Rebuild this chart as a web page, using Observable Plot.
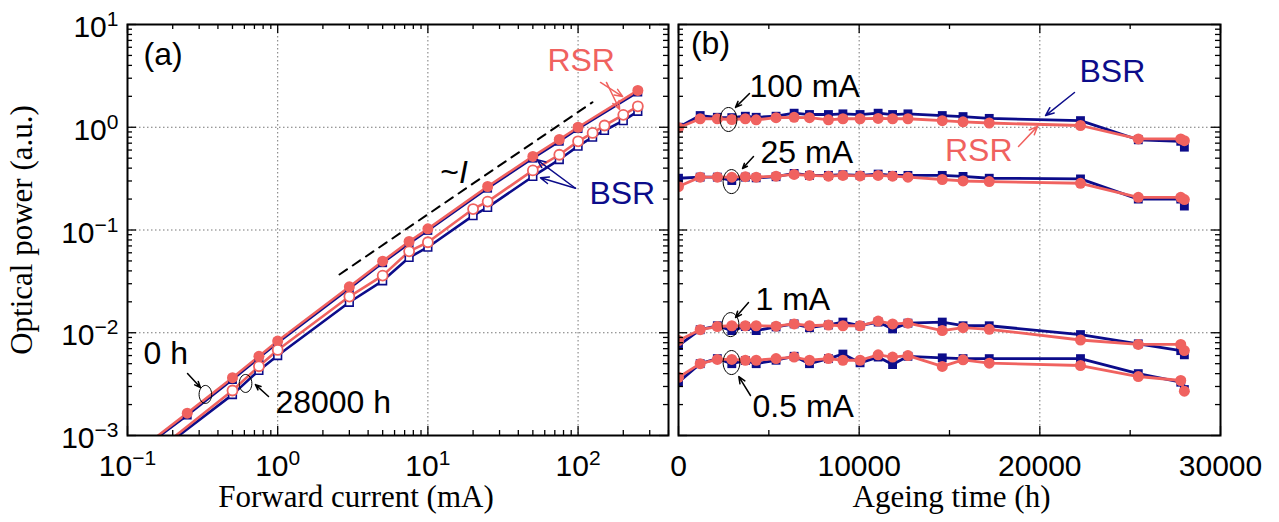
<!DOCTYPE html>
<html><head><meta charset="utf-8">
<script src="https://cdn.jsdelivr.net/npm/d3@7"></script>
<script src="https://cdn.jsdelivr.net/npm/@observablehq/plot@0.6"></script>
<style>
html,body{margin:0;padding:0;background:#fff;}
#chart{display:flex;flex-direction:row;width:1279px;height:522px;overflow:hidden;}
#chart svg{display:block;}
</style></head><body><div id="chart"></div>
<script>
// ---------- data: panel (a) ----------
const currentsFresh = [0.25, 0.5, 0.75, 1, 3, 5, 7.5, 10, 25, 50, 75, 100, 250];          // mA, 0 h
const rsrFresh = [0.00165, 0.00365, 0.0059, 0.0083, 0.028, 0.0497, 0.0773, 0.1026, 0.265, 0.52, 0.76, 1.0, 2.28];
const bsrFresh = [0.00158, 0.0035, 0.0057, 0.0080, 0.027, 0.048, 0.074, 0.099, 0.255, 0.50, 0.73, 0.97, 2.2];
const currentsAged = [0.5, 0.75, 1, 3, 5, 7.5, 10, 20, 25, 50, 75, 100, 125, 150, 200, 250]; // mA, 28000 h
const rsrAged = [0.00274, 0.00472, 0.0068, 0.0225, 0.036, 0.062, 0.076, 0.16, 0.189, 0.38, 0.54, 0.73, 0.88, 1.04, 1.32, 1.6];
const bsrAged = [0.0025, 0.0043, 0.006, 0.0198, 0.032, 0.054, 0.068, 0.138, 0.166, 0.332, 0.485, 0.655, 0.8, 0.93, 1.16, 1.43];
// where each curve leaves the bottom of the frame: rsrFresh, bsrFresh, rsrAged, bsrAged
const entryCurrents = [0.16, 0.165, 0.21, 0.22];
const entryPower = 0.001;
// ~I guide line
const guideCurrent = [2.58, 124.7];
const guidePower = [0.0369, 1.75];

// ---------- data: panel (b) ----------
const ageingHours = [0, 1200, 2150, 2950, 3700, 4300, 5400, 6400, 7250, 8300, 9100, 10050, 11050, 11850, 12700, 14600, 15750, 17200, 22250, 25450, 27800, 28000];
const rsr100 = [0.99, 1.21, 1.21, 1.19, 1.21, 1.18, 1.24, 1.25, 1.24, 1.18, 1.21, 1.21, 1.22, 1.21, 1.21, 1.16, 1.13, 1.10, 1.04, 0.77, 0.77, 0.74];
const bsr100 = [1.0, 1.30, 1.25, 1.24, 1.28, 1.25, 1.28, 1.37, 1.33, 1.33, 1.35, 1.33, 1.37, 1.33, 1.35, 1.30, 1.27, 1.22, 1.16, 0.755, 0.73, 0.64];
const rsr25 = [0.265, 0.327, 0.327, 0.327, 0.33, 0.327, 0.334, 0.347, 0.34, 0.334, 0.34, 0.336, 0.34, 0.334, 0.327, 0.31, 0.30, 0.296, 0.285, 0.208, 0.208, 0.198];
const bsr25 = [0.319, 0.327, 0.327, 0.303, 0.327, 0.322, 0.33, 0.355, 0.34, 0.34, 0.345, 0.34, 0.35, 0.34, 0.34, 0.34, 0.332, 0.319, 0.314, 0.20, 0.20, 0.171];
const rsr1 = [0.0084, 0.0107, 0.0115, 0.0117, 0.0117, 0.0117, 0.0116, 0.0122, 0.0117, 0.0119, 0.0117, 0.0117, 0.0130, 0.0122, 0.0124, 0.0105, 0.0112, 0.0108, 0.0085, 0.0077, 0.0077, 0.0067];
const bsr1 = [0.0075, 0.0107, 0.0117, 0.0105, 0.0115, 0.0105, 0.0114, 0.0122, 0.0112, 0.0119, 0.0127, 0.0117, 0.0127, 0.0109, 0.0124, 0.0127, 0.0117, 0.0117, 0.0096, 0.0078, 0.0067, 0.0061];
const rsr05 = [0.00369, 0.0050, 0.0055, 0.0055, 0.0054, 0.0054, 0.0056, 0.0058, 0.0054, 0.0056, 0.0054, 0.0054, 0.0061, 0.0058, 0.0060, 0.0047, 0.00545, 0.00506, 0.0048, 0.00375, 0.00343, 0.0027];
const bsr05 = [0.0033, 0.0050, 0.0056, 0.0050, 0.00536, 0.0050, 0.0054, 0.0059, 0.0050, 0.0056, 0.0062, 0.0051, 0.0058, 0.0049, 0.0059, 0.0057, 0.0056, 0.0056, 0.0056, 0.0040, 0.0033, 0.0028];

// ---------- ticks ----------
const powerMajor = [1e-3, 1e-2, 1e-1, 1, 10];
const powerMinor = [1e-3, 1e-2, 1e-1, 1].flatMap(b => [2,3,4,5,6,7,8,9].map(m => m * b));
const currentMajor = [0.1, 1, 10, 100];
const currentMinor = [0.1, 1, 10, 100].flatMap(b => [2,3,4,5,6,7,8,9].map(m => m * b)).filter(v => v <= 400);
const hoursMajor = [0, 10000, 20000, 30000];
const hoursMinor = [5000, 15000, 25000];
const currentGrid = [1, 10, 100];
const powerGrid = [0.01, 0.1, 1];
const hoursGrid = [10000, 20000];

// ---------- annotations ----------
const notesA = [
  {x: 0.128, y: 5.1, text: "(a)", c: "black"},
  {x: 62.5, y: 4.47, text: "RSR", c: "red"},
  {x: 119, y: 0.224, text: "BSR", c: "navy"},
  {x: 12.1, y: 0.359, text: "~I", c: "black"},
  {x: 0.128, y: 0.00628, text: "0 h", c: "black"},
  {x: 0.966, y: 0.00207, text: "28000 h", c: "black"}
];
const arrowsA = [
  {x1: 141, y1: 2.73, x2: 198, y2: 1.99, c: "red"},
  {x1: 154.5, y1: 2.73, x2: 189, y2: 1.49, c: "red"},
  {x1: 96.1, y1: 0.255, x2: 53.4, y2: 0.482, c: "navy"},
  {x1: 96.1, y1: 0.255, x2: 56.2, y2: 0.322, c: "navy"},
  {x1: 0.251, y1: 0.00401, x2: 0.306, y2: 0.00293, c: "black"},
  {x1: 0.869, y1: 0.00240, x2: 0.711, y2: 0.00313, c: "black"}
];
const ellipsesA = [{x: 0.330, y: 0.00251}, {x: 0.611, y: 0.00321}];

const notesB = [
  {x: 690, y: 6.5, text: "(b)", c: "black"},
  {x: 3930, y: 2.46, text: "100 mA", c: "black"},
  {x: 4539, y: 0.567, text: "25 mA", c: "black"},
  {x: 4262, y: 0.0211, text: "1 mA", c: "black"},
  {x: 4096, y: 0.00191, text: "0.5 mA", c: "black"},
  {x: 22195, y: 3.45, text: "BSR", c: "navy"}
];
const notesBEnd = [
  {x: 18487, y: 0.594, text: "RSR", c: "red"}
];
const arrowsB = [
  {x1: 3930, y1: 2.13, x2: 3155, y2: 1.56, c: "black"},
  {x1: 4151, y1: 0.519, x2: 3542, y2: 0.397, c: "black"},
  {x1: 3875, y1: 0.0197, x2: 3155, y2: 0.01406, c: "black"},
  {x1: 3985, y1: 0.00245, x2: 3338, y2: 0.00375, c: "black"},
  {x1: 21919, y1: 2.18, x2: 20314, y2: 1.30, c: "navy"},
  {x1: 18819, y1: 0.650, x2: 19870, y2: 1.02, c: "red"}
];
const ellipsesB = [{x: 2768, y: 1.19}, {x: 2934, y: 0.296}, {x: 2878, y: 0.0120}, {x: 2934, y: 0.00513}];

// ---------- styling ----------
const RED = "#f0625f", NAVY = "#0c0c8a";
const colorOf = c => c === "red" ? RED : c === "navy" ? NAVY : "black";
const SANS = "'Liberation Sans', Arial, sans-serif";
const SERIF = "'Liberation Serif', 'Times New Roman', serif";
const H = 522, MT = 24, MB = 87;
const frameH = H - MT - MB;

const ellipse = {
  draw(ctx, size) {
    const r = Math.sqrt(size / Math.PI), rx = r * 0.7, ry = r, k = 0.5523;
    ctx.moveTo(rx, 0);
    ctx.bezierCurveTo(rx, ry * k, rx * k, ry, 0, ry);
    ctx.bezierCurveTo(-rx * k, ry, -rx, ry * k, -rx, 0);
    ctx.bezierCurveTo(-rx, -ry * k, -rx * k, -ry, 0, -ry);
    ctx.bezierCurveTo(rx * k, -ry, rx, -ry * k, rx, 0);
    ctx.closePath();
  }
};

function frameTicks(xMajor, xMinor, yMajor, yMinor, fw, fh) {
  const marks = [];
  for (const [vals, len] of [[xMajor, 9], [xMinor, 5]]) {
    marks.push(Plot.tickX(vals, {x: d => d, insetTop: fh - len, strokeWidth: 1.3}));
    marks.push(Plot.tickX(vals, {x: d => d, insetBottom: fh - len, strokeWidth: 1.3}));
  }
  for (const [vals, len] of [[yMajor, 9], [yMinor, 5]]) {
    marks.push(Plot.tickY(vals, {y: d => d, insetRight: fw - len, strokeWidth: 1.3}));
    marks.push(Plot.tickY(vals, {y: d => d, insetLeft: fw - len, strokeWidth: 1.3}));
  }
  return marks;
}
const pow10 = d => { const e = Math.round(Math.log10(d)); return "10^" + (e < 0 ? "\u2212" + (-e) : e); };
const zip = (xs, ys) => xs.map((x, i) => ({x, y: ys[i]}));
const gridStyle = {stroke: "#777", strokeWidth: 1, strokeDasharray: "1.5,2.5"};
const noteMark = (notes, anchor) =>
  Plot.text(notes, {x: "x", y: "y", text: "text", fill: d => colorOf(d.c), textAnchor: anchor,
    lineAnchor: "middle", fontSize: 32, fontFamily: SANS});

// ---------- panel (a) ----------
const WA = 673, MLA = 127, MRA = 5;
const freshR = zip(currentsFresh, rsrFresh), freshB = zip(currentsFresh, bsrFresh);
const agedR = zip(currentsAged, rsrAged), agedB = zip(currentsAged, bsrAged);
const lineFreshR = [{x: entryCurrents[0], y: entryPower}, ...freshR];
const lineFreshB = [{x: entryCurrents[1], y: entryPower}, ...freshB];
const lineAgedR = [{x: entryCurrents[2], y: entryPower}, ...agedR];
const lineAgedB = [{x: entryCurrents[3], y: entryPower}, ...agedB];

const plotA = Plot.plot({
  width: WA, height: H, marginLeft: MLA, marginRight: MRA, marginTop: MT, marginBottom: MB,
  style: {fontFamily: SANS, color: "black", background: "white", overflow: "visible"},
  x: {type: "log", domain: [0.1, 400], label: null},
  y: {type: "log", domain: [1e-3, 10], label: null},
  marks: [
    Plot.ruleX(currentGrid, {x: d => d, ...gridStyle}),
    Plot.ruleY(powerGrid, {y: d => d, ...gridStyle}),
    Plot.line(zip(guideCurrent, guidePower), {x: "x", y: "y", stroke: "black", strokeWidth: 2, strokeDasharray: "9,7"}),
    Plot.line(lineAgedB, {x: "x", y: "y", stroke: NAVY, strokeWidth: 2.6, clip: true}),
    Plot.line(lineFreshB, {x: "x", y: "y", stroke: NAVY, strokeWidth: 2.6, clip: true}),
    Plot.line(lineAgedR, {x: "x", y: "y", stroke: RED, strokeWidth: 2.6, clip: true}),
    Plot.line(lineFreshR, {x: "x", y: "y", stroke: RED, strokeWidth: 2.6, clip: true}),
    Plot.dot(freshB, {x: "x", y: "y", symbol: "square", r: 5, fill: NAVY}),
    Plot.dot(agedB, {x: "x", y: "y", symbol: "square", r: 4.3, fill: "white", stroke: NAVY, strokeWidth: 1.6}),
    Plot.dot(freshR, {x: "x", y: "y", r: 5.5, fill: RED}),
    Plot.dot(agedR, {x: "x", y: "y", r: 5, fill: "white", stroke: RED, strokeWidth: 1.8}),
    Plot.arrow(arrowsA, {x1: "x1", y1: "y1", x2: "x2", y2: "y2", stroke: d => colorOf(d.c), strokeWidth: 1.5, headLength: 9, headAngle: 45}),
    Plot.dot(ellipsesA, {x: "x", y: "y", r: 9, symbol: ellipse, fill: "none", stroke: "black", strokeWidth: 1}),
    noteMark(notesA, "start"),
    ...frameTicks(currentMajor, currentMinor, powerMajor, powerMinor, 668 - MLA, frameH),
    Plot.frame({stroke: "black", strokeWidth: 2}),
    Plot.axisX({ticks: currentMajor, tickFormat: pow10, tickSize: 0, tickPadding: 19, fontSize: 30, label: null}),
    Plot.axisY({ticks: powerMajor, tickFormat: pow10, tickSize: 0, tickPadding: 9, fontSize: 30, label: null, dy: 3}),
    Plot.text(["Optical power (a.u.)"], {frameAnchor: "left", text: d => d, rotate: -90, dx: -105, textAnchor: "middle", lineAnchor: "middle", fontSize: 31, fontFamily: SERIF}),
    Plot.text(["Forward current (mA)"], {frameAnchor: "bottom", text: d => d, dx: -42, dy: 62, textAnchor: "middle", lineAnchor: "middle", fontSize: 31, fontFamily: SERIF})
  ]
});

// ---------- panel (b) ----------
const WB = 606, MLB = 5, MRB = 59;
const seriesB = [
  {vals: bsr100, c: NAVY, s: "square"}, {vals: rsr100, c: RED, s: "circle"},
  {vals: bsr25, c: NAVY, s: "square"}, {vals: rsr25, c: RED, s: "circle"},
  {vals: bsr1, c: NAVY, s: "square"}, {vals: rsr1, c: RED, s: "circle"},
  {vals: bsr05, c: NAVY, s: "square"}, {vals: rsr05, c: RED, s: "circle"}
];
const marksB = [];
for (const s of seriesB) {
  const pts = zip(ageingHours, s.vals);
  marksB.push(Plot.line(pts, {x: "x", y: "y", stroke: s.c, strokeWidth: 2.8, clip: true}));
  marksB.push(Plot.dot(pts, {x: "x", y: "y", symbol: s.s, r: s.s === "square" ? 5 : 5.5, fill: s.c, clip: true}));
}

const plotB = Plot.plot({
  width: WB, height: H, marginLeft: MLB, marginRight: MRB, marginTop: MT, marginBottom: MB,
  style: {fontFamily: SANS, color: "black", background: "white", overflow: "visible"},
  x: {type: "linear", domain: [0, 30000], label: null},
  y: {type: "log", domain: [1e-3, 10], label: null, axis: null},
  marks: [
    Plot.ruleX(hoursGrid, {x: d => d, ...gridStyle}),
    Plot.ruleY(powerGrid, {y: d => d, ...gridStyle}),
    ...marksB,
    Plot.arrow(arrowsB, {x1: "x1", y1: "y1", x2: "x2", y2: "y2", stroke: d => colorOf(d.c), strokeWidth: 1.5, headLength: 9, headAngle: 45}),
    Plot.dot(ellipsesB, {x: "x", y: "y", r: 12, symbol: ellipse, fill: "none", stroke: "black", strokeWidth: 1}),
    noteMark(notesB, "start"),
    noteMark(notesBEnd, "end"),
    ...frameTicks(hoursMajor, hoursMinor, powerMajor, powerMinor, WB - MLB - MRB, frameH),
    Plot.frame({stroke: "black", strokeWidth: 2}),
    Plot.axisX({ticks: hoursMajor, tickFormat: d => String(d), tickSize: 0, tickPadding: 19, fontSize: 30, label: null}),
    Plot.text(["Ageing time (h)"], {frameAnchor: "bottom", text: d => d, dx: 2, dy: 62, textAnchor: "middle", lineAnchor: "middle", fontSize: 31, fontFamily: SERIF})
  ]
});

// superscripts and italic I as real text
const NS = "http://www.w3.org/2000/svg";
function polish(svg) {
  svg.querySelectorAll("text").forEach(t => {
    const s = t.textContent;
    if (s.includes("^")) {
      const [base, exp] = s.split("^");
      t.textContent = "";
      const a = document.createElementNS(NS, "tspan"); a.textContent = base;
      const b = document.createElementNS(NS, "tspan"); b.textContent = exp;
      b.setAttribute("dy", "-11"); b.setAttribute("font-size", "21");
      t.append(a, b);
    } else if (s === "~I") {
      t.textContent = "";
      const a = document.createElementNS(NS, "tspan"); a.textContent = "~";
      const b = document.createElementNS(NS, "tspan"); b.textContent = "I"; b.setAttribute("font-style", "italic");
      t.append(a, b);
    }
  });
}
polish(plotA); polish(plotB);
const chart = document.getElementById("chart");
chart.append(plotA, plotB);
</script>
</body></html>
